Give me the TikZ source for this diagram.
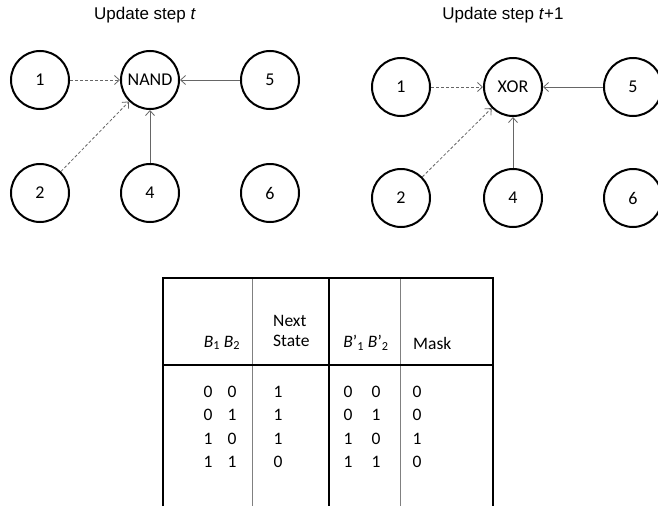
\documentclass[tikz,border=0pt]{standalone}
\usepackage{fontspec}
\setmainfont{Carlito}
\newfontfamily\titlefont{Liberation Sans}
\usetikzlibrary{arrows.meta}
\tikzset{
  cell/.style={circle,draw,line width=2pt,minimum size=58pt,inner sep=0pt,font=\fontsize{18}{20}\selectfont},
  link/.style={->,draw=black!60,line width=.8pt},
  weak/.style={link,dashed,dash pattern=on 3pt off 2pt},
  heading/.style={font=\titlefont\fontsize{17}{20}\selectfont},
  txt/.style={font=\fontsize{17.5}{20}\selectfont,inner sep=0pt}
}
\begin{document}
\begin{tikzpicture}[x=1pt,y=-1pt,>={Straight Barb[length=5pt,width=9pt]}]
\useasboundingbox (0,0) rectangle (658,506);
% update step t
\node[heading] (ta) at (145,15) {Update step \textit{t}};
\node[cell] (a1) at (40,80) {1};
\node[cell] (ag) at (150,80) {NAND};
\node[cell] (a5) at (270,80) {5};
\node[cell] (a2) at (40,193) {2};
\node[cell] (a4) at (150,193) {4};
\node[cell] (a6) at (270,193) {6};
\draw[weak] (a1)--(ag);\draw[weak] (a2)--(ag);
\draw[link] (a5)--(ag);\draw[link] (a4)--(ag);
% update step t+1
\node[heading] (tb) at (503,15) {Update step \textit{t}+1};
\node[cell] (b1) at (401,87) {1};
\node[cell] (bg) at (513,87) {XOR};
\node[cell] (b5) at (633,87) {5};
\node[cell] (b2) at (401,198) {2};
\node[cell] (b4) at (513,198) {4};
\node[cell] (b6) at (633,198) {6};
\draw[weak] (b1)--(bg);\draw[weak] (b2)--(bg);
\draw[link] (b5)--(bg);\draw[link] (b4)--(bg);
% table
\draw[black!50,line width=.9pt] (252,278)--(252,506) (400,278)--(400,506);
\draw[line width=2.4pt] (163,506)--(163,278)--(493,278)--(493,506) (163,365)--(493,365) (329,278)--(329,506);
\node[txt] (h1) at (222,343) {\textit{B}\textsubscript{1} \textit{B}\textsubscript{2}};
\node[txt,align=left,anchor=west] (h2) at (273,331) {Next\\State};
\node[txt] (h3) at (366,343) {\textit{B}'\textsubscript{1} \textit{B}'\textsubscript{2}};
\node[txt,anchor=west] (h4) at (413,343) {Mask};
\foreach \p/\q/\n/\m [count=\i] in {0/0/1/0,0/1/1/0,1/0/1/1,1/1/0/0}{
  \node[txt] (l\i) at (208,368+23.5*\i) {\p};
  \node[txt] (r\i) at (232,368+23.5*\i) {\q};
  \node[txt] (s\i) at (278,368+23.5*\i) {\n};
  \node[txt] (u\i) at (348,368+23.5*\i) {\p};
  \node[txt] (v\i) at (376,368+23.5*\i) {\q};
  \node[txt] (m\i) at (417,368+23.5*\i) {\m};
}
\end{tikzpicture}
\end{document}
